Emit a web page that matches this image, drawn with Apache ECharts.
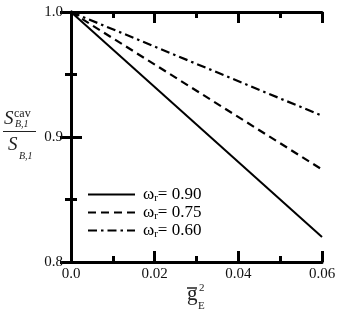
<!DOCTYPE html>
<html>
<head>
<meta charset="utf-8">
<script src="https://cdn.jsdelivr.net/npm/echarts@6/dist/echarts.min.js"></script>
<style>
  html, body { margin: 0; padding: 0; background: #fff; }
  #chart { width: 343px; height: 319px; }
</style>
</head>
<body>
<div id="chart"></div>
<script>
// g_E^2 values along the x axis
const xValues = [0, 0.06]
// S^cav / S ratio for each omega_r
const omega090 = [1.0, 0.82]
const omega075 = [1.0, 0.874]
const omega060 = [1.0, 0.917]
const legendNames = ['0.90', '0.75', '0.60']
const xTicks = [0, 0.02, 0.04, 0.06]
const yTicks = [0.8, 0.9, 1.0]

const FONT = '"Liberation Serif", "Times New Roman", serif'
const chart = echarts.init(document.getElementById('chart'))

const pairs = (ys) => xValues.map((x, i) => [x, ys[i]])

const axisCommon = {
  axisLine: { show: true, lineStyle: { color: '#000', width: 3 } },
  axisTick: { show: true, inside: true, length: 11, lineStyle: { color: '#000', width: 3 } },
  minorTick: { show: true, splitNumber: 2, length: 6, lineStyle: { color: '#000', width: 3 } },
  splitLine: { show: false },
}

const xBase = { type: 'value', min: 0, max: 0.06, interval: 0.02 }
const yBase = { type: 'value', min: 0.8, max: 1.0, interval: 0.1 }

chart.setOption({
  animation: false,
  color: ['#000', '#000', '#000'],
  grid: { left: 71, right: 21, top: 12, bottom: 57 },
  xAxis: [
    {
      ...xBase, ...axisCommon, position: 'bottom',
      axisLabel: {
        color: '#111', fontFamily: FONT, fontSize: 15, margin: 5,
        formatter: (v) => (xTicks.includes(+v.toFixed(2)) ? (v === 0 ? '0.0' : v.toFixed(2)) : ''),
      },
    },
    { ...xBase, ...axisCommon, position: 'top', axisLabel: { show: false } },
  ],
  yAxis: [
    {
      ...yBase, ...axisCommon, position: 'left',
      axisLabel: {
        color: '#111', fontFamily: FONT, fontSize: 15, margin: 8,
        formatter: (v) => (yTicks.includes(+v.toFixed(1)) ? v.toFixed(1) : ''),
      },
    },
    { ...yBase, ...axisCommon, position: 'right', axisLabel: { show: false } },
  ],
  legend: {
    orient: 'vertical',
    left: 87,
    top: 186,
    padding: 0,
    itemWidth: 47,
    itemHeight: 14,
    itemGap: 0.5,
    itemStyle: { opacity: 0 },
    data: legendNames,
    formatter: (n) => '{w|ω}{s|r}{t|= ' + n + '}',
    textStyle: {
      fontFamily: FONT,
      padding: [0, 0, 0, 3],
      rich: {
        w: { fontFamily: FONT, fontSize: 17, color: '#000', lineHeight: 18 },
        s: { fontFamily: FONT, fontSize: 11, color: '#000', lineHeight: 18, verticalAlign: 'bottom' },
        t: { fontFamily: FONT, fontSize: 17, color: '#000', lineHeight: 18 },
      },
    },
  },
  series: [
    {
      name: legendNames[0], type: 'line', data: pairs(omega090), symbol: 'none',
      lineStyle: { color: '#000', width: 2, type: 'solid' },
    },
    {
      name: legendNames[1], type: 'line', data: pairs(omega075), symbol: 'none',
      lineStyle: { color: '#000', width: 2.2, type: [8, 5] },
    },
    {
      name: legendNames[2], type: 'line', data: pairs(omega060), symbol: 'none',
      lineStyle: { color: '#000', width: 2.2, type: [9, 4, 2.5, 4] },
    },
  ],
  graphic: [
    // y axis title: S^cav_{B,1} / S_{B,1}
    { type: 'text', left: 4, top: 109, style: { text: 'S', font: 'italic 19px "Liberation Serif"', fill: '#222' } },
    { type: 'text', left: 14, top: 108, style: { text: 'cav', font: '12px "Liberation Serif"', fill: '#222' } },
    { type: 'text', left: 15, top: 119, style: { text: 'B,1', font: 'italic 10px "Liberation Serif"', fill: '#222' } },
    { type: 'line', shape: { x1: 3, y1: 131.5, x2: 36, y2: 131.5 }, style: { stroke: '#222', lineWidth: 1 } },
    { type: 'text', left: 8, top: 135, style: { text: 'S', font: 'italic 19px "Liberation Serif"', fill: '#222' } },
    { type: 'text', left: 19, top: 151, style: { text: 'B,1', font: 'italic 10px "Liberation Serif"', fill: '#222' } },
    // x axis title: g-bar_E^2
    { type: 'text', left: 187, top: 284, style: { text: 'g', font: '21px "Liberation Serif"', fill: '#222' } },
    { type: 'line', shape: { x1: 187, y1: 288, x2: 197, y2: 288 }, style: { stroke: '#222', lineWidth: 1.5 } },
    { type: 'text', left: 199, top: 283, style: { text: '2', font: '11px "Liberation Serif"', fill: '#222' } },
    { type: 'text', left: 198, top: 301, style: { text: 'E', font: '11px "Liberation Serif"', fill: '#222' } },
  ],
})
</script>
</body>
</html>
